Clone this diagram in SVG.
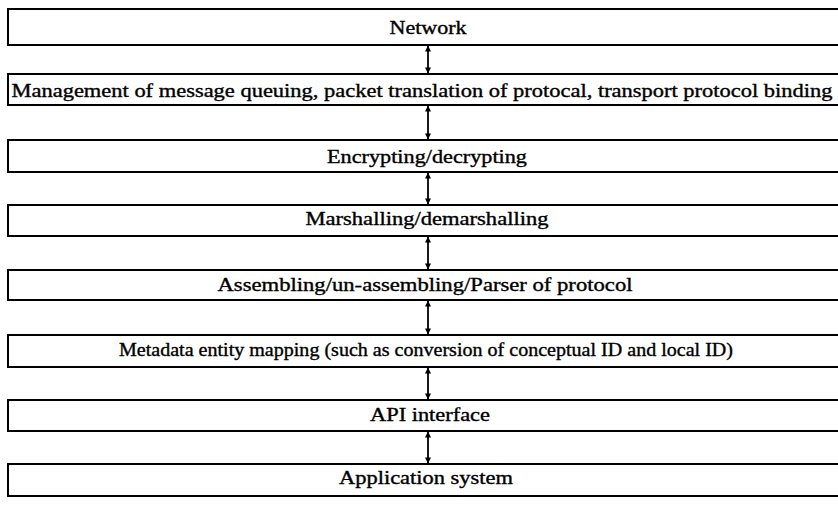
<svg xmlns="http://www.w3.org/2000/svg" width="838" height="505" viewBox="0 0 838 505">
<style>
.box{fill:#fff;stroke:#000;stroke-width:2}
.lbl{font-family:"Liberation Serif","Times New Roman",serif;font-size:18px;fill:#000;stroke:#000;stroke-width:0.35;text-anchor:middle}
.arr{stroke:#000;stroke-width:1.8;fill:none;marker-start:url(#ah);marker-end:url(#ah)}
</style>
<defs>
<marker id="ah" viewBox="0 0 10 10" refX="9" refY="5" markerWidth="8" markerHeight="6" markerUnits="userSpaceOnUse" orient="auto-start-reverse">
<path d="M0,0 L10,5 L0,10 Z" fill="#000"/>
</marker>
</defs>
<rect width="838" height="505" fill="#fff"/>
<g id="connectors">
<line class="arr" x1="428" y1="46" x2="428" y2="73"/>
<line class="arr" x1="428" y1="106" x2="428" y2="139"/>
<line class="arr" x1="428" y1="173" x2="428" y2="204"/>
<line class="arr" x1="428" y1="237" x2="428" y2="269"/>
<line class="arr" x1="428" y1="301" x2="428" y2="334"/>
<line class="arr" x1="428" y1="368" x2="428" y2="399"/>
<line class="arr" x1="428" y1="432" x2="428" y2="463"/>
</g>
<g id="network"><rect class="box" x="8" y="9" width="840" height="36"/><text class="lbl" x="428" y="34" textLength="77" lengthAdjust="spacingAndGlyphs">Network</text></g>
<g id="management"><rect class="box" x="8" y="74" width="840" height="31"/><text class="lbl" x="422" y="97" textLength="821" lengthAdjust="spacingAndGlyphs">Management of message queuing, packet translation of protocal, transport protocol binding</text></g>
<g id="encrypting"><rect class="box" x="8" y="140" width="840" height="32"/><text class="lbl" x="427" y="163" textLength="200" lengthAdjust="spacingAndGlyphs">Encrypting/decrypting</text></g>
<g id="marshalling"><rect class="box" x="8" y="205" width="840" height="31"/><text class="lbl" x="427" y="225" textLength="243" lengthAdjust="spacingAndGlyphs">Marshalling/demarshalling</text></g>
<g id="assembling"><rect class="box" x="8" y="270" width="840" height="30"/><text class="lbl" x="425" y="291" textLength="415" lengthAdjust="spacingAndGlyphs">Assembling/un-assembling/Parser of protocol</text></g>
<g id="metadata"><rect class="box" x="8" y="335" width="840" height="32"/><text class="lbl" x="426" y="356" textLength="614" lengthAdjust="spacingAndGlyphs">Metadata entity mapping (such as conversion of conceptual ID and local ID)</text></g>
<g id="api"><rect class="box" x="8" y="400" width="840" height="31"/><text class="lbl" x="430" y="421" textLength="120" lengthAdjust="spacingAndGlyphs">API interface</text></g>
<g id="application"><rect class="box" x="8" y="464" width="840" height="32"/><text class="lbl" x="426" y="484" textLength="174" lengthAdjust="spacingAndGlyphs">Application system</text></g>
</svg>
